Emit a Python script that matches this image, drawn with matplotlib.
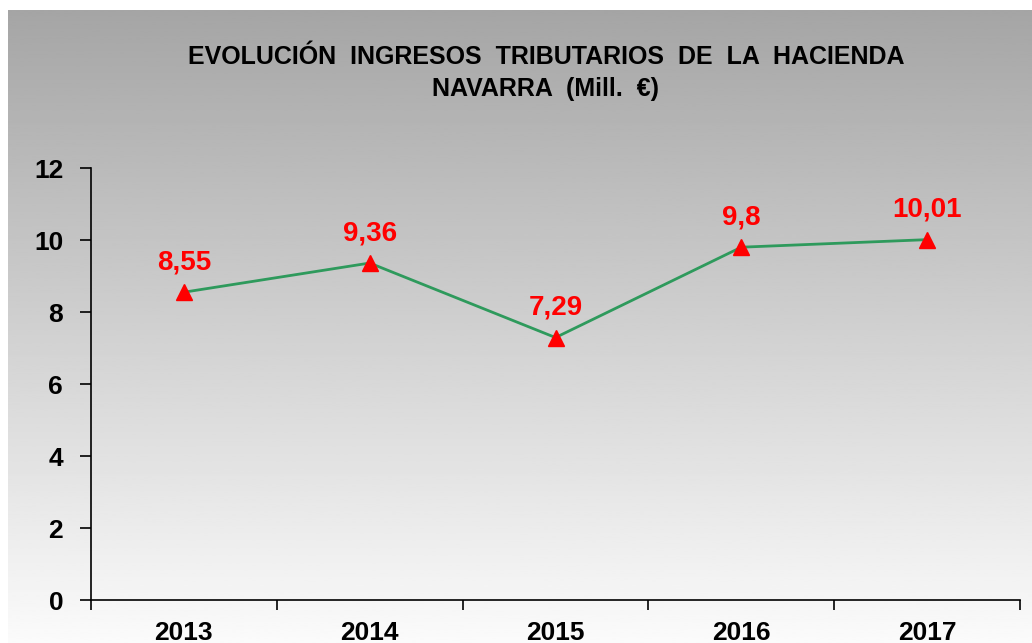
import numpy as np
import matplotlib
matplotlib.use("Agg")
import matplotlib.pyplot as plt

# Datos del gráfico
years = ["2013", "2014", "2015", "2016", "2017"]
ingresos = [8.55, 9.36, 7.29, 9.8, 10.01]
etiquetas = ["8,55", "9,36", "7,29", "9,8", "10,01"]
y_ticks = [0, 2, 4, 6, 8, 10, 12]

plt.rcParams['font.family'] = ['Liberation Sans', 'DejaVu Sans']

fig = plt.figure(figsize=(10.32, 6.43), dpi=100)

# Fondo con degradado gris -> blanco
bg = fig.add_axes([8 / 1032, 0, 1 - 8 / 1032, 1 - 10 / 643])
bg.set_axis_off()
grad = np.linspace(165, 251, 256).reshape(-1, 1) / 255.0
bg.imshow(grad, aspect='auto', cmap='gray', vmin=0, vmax=1,
          extent=[0, 1, 0, 1], origin='upper')
bg.set_zorder(0)

ax = fig.add_axes([91 / 1032, 43 / 643, (1020 - 91) / 1032, (600 - 168) / 643])
ax.set_zorder(1)
ax.patch.set_alpha(0)

x = np.arange(len(years))
ax.plot(x, ingresos, color='#2e9a5c', linewidth=2, marker='^',
        markersize=12, markerfacecolor='red', markeredgecolor='red')

for xi, yi, lab in zip(x, ingresos, etiquetas):
    ax.annotate(lab, (xi, yi), xytext=(0, 12), textcoords='offset points',
                ha='center', va='bottom', color='red', fontsize=20,
                fontweight='bold')

ax.set_xlim(-0.5, len(years) - 0.5)
ax.set_ylim(0, 12)
ax.set_yticks(y_ticks)
ax.set_yticklabels([str(v) for v in y_ticks], fontsize=19, fontweight='bold')
ax.set_xticks(x)
ax.set_xticklabels(years, fontsize=19, fontweight='bold')
ax.set_xticks(np.arange(-0.5, len(years)), minor=True)
ax.tick_params(axis='x', which='major', length=0, pad=15)
ax.tick_params(axis='x', which='minor', length=7, width=1.2, direction='out')
ax.tick_params(axis='y', length=8, width=1.2, pad=12)

for s in ['top', 'right']:
    ax.spines[s].set_visible(False)
for s in ['left', 'bottom']:
    ax.spines[s].set_linewidth(1.2)

fig.text(546 / 1032, 1 - 57 / 643,
         "EVOLUCIÓN  INGRESOS  TRIBUTARIOS  DE  LA  HACIENDA",
         ha='center', va='center', fontsize=18, fontweight='bold')
fig.text(546 / 1032, 1 - 89 / 643, "NAVARRA  (Mill.  €)",
         ha='center', va='center', fontsize=18, fontweight='bold')

fig.savefig("out.png", dpi=100)
